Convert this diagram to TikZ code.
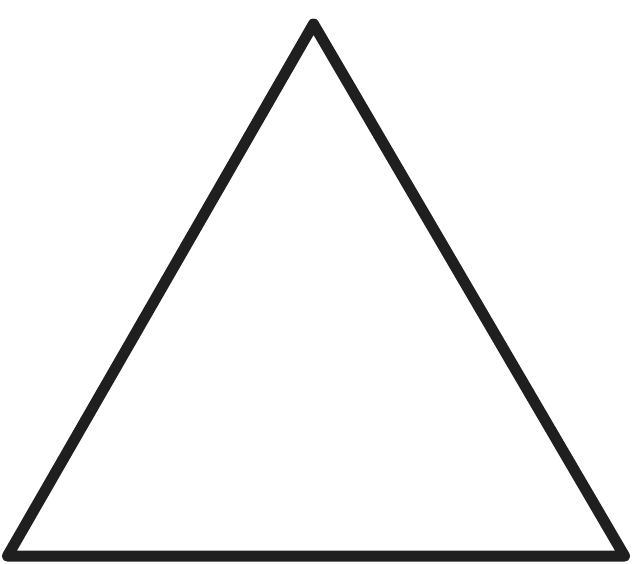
\documentclass[tikz,border=0pt]{standalone}
\begin{document}
\begin{tikzpicture}[x=1pt,y=-1pt,
  outline/.style={draw=black!88, line width=11pt, line join=round, line cap=round}]
\useasboundingbox (0,0) rectangle (640,563);
\coordinate (apex) at (313.5,24);
\coordinate (bl) at (7.5,556);
\coordinate (br) at (624.5,556);
\draw[outline] (apex) -- (br) -- (bl) -- cycle;
\end{tikzpicture}
\end{document}
